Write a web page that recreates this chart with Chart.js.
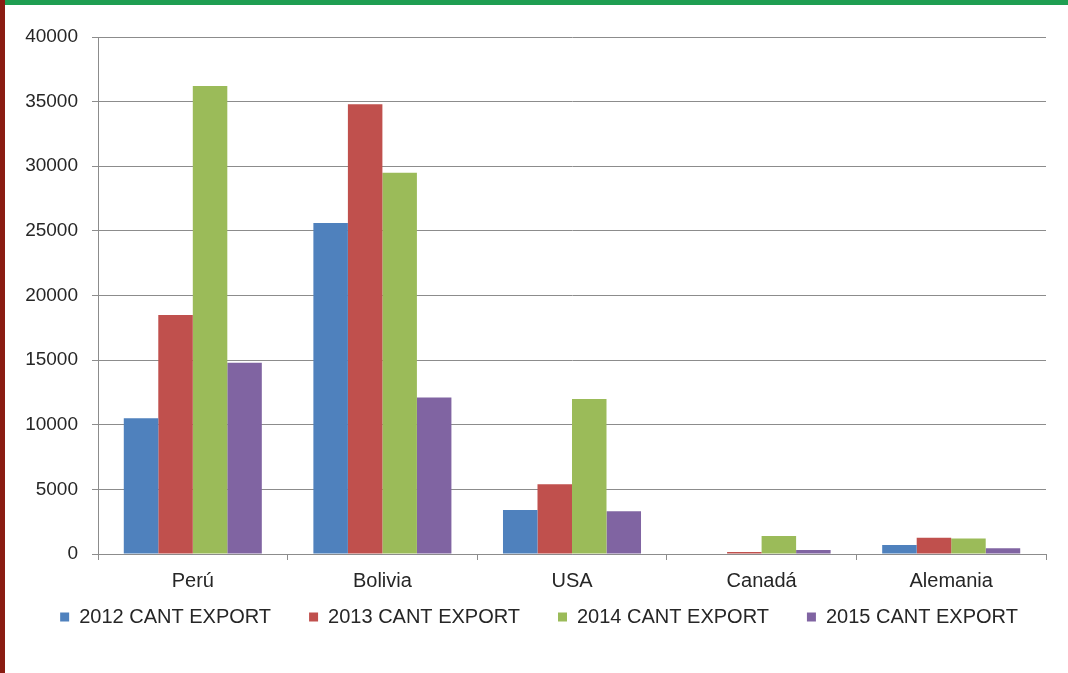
<!DOCTYPE html>
<html>
<head>
<meta charset="utf-8">
<script src="https://cdn.jsdelivr.net/npm/chart.js@4.4.1/dist/chart.umd.min.js"></script>
<style>
  html, body { margin: 0; padding: 0; background: #fff; }
  #wrap { position: relative; width: 1068px; height: 673px; overflow: hidden; background: #fff; }
  #topBorder { position: absolute; left: 0; top: 0; width: 1068px; height: 5px; background: #1f9e52; }
  #leftBorder { position: absolute; left: 0; top: 0; width: 5px; height: 673px; background: #8a1c12; }
  canvas { position: absolute; left: 0; top: 0; }
</style>
</head>
<body>
<div id="wrap">
  <canvas id="c" width="1068" height="673"></canvas>
  <div id="topBorder"></div>
  <div id="leftBorder"></div>
</div>
<script>
const categories = ['Perú', 'Bolivia', 'USA', 'Canadá', 'Alemania'];
const seriesNames = ['2012 CANT EXPORT', '2013 CANT EXPORT', '2014 CANT EXPORT', '2015 CANT EXPORT'];
const values2012 = [10500, 25600, 3400, 0, 700];
const values2013 = [18500, 34800, 5400, 150, 1250];
const values2014 = [36200, 29500, 12000, 1400, 1200];
const values2015 = [14800, 12100, 3300, 300, 450];
const seriesColors = ['#4f81bd', '#c0504d', '#9bbb59', '#8064a2'];
const yTicks = [0, 5000, 10000, 15000, 20000, 25000, 30000, 35000, 40000];

Chart.defaults.font.family = "'Liberation Sans', Arial, sans-serif";
Chart.defaults.color = '#262626';

const allValues = [values2012, values2013, values2014, values2015];

// Re-place the legend box after layout so that it sits like the reference
const legendPlacer = {
  id: 'legendPlacer',
  afterLayout(chart) {
    const lg = chart.legend;
    if (!lg) return;
    const h = lg.bottom - lg.top;
    lg.top = 569;
    lg.bottom = 569 + h;
    lg.left = 16;
    lg.right = 1062;
  }
};

new Chart(document.getElementById('c'), {
  type: 'bar',
  data: {
    labels: categories,
    datasets: allValues.map((v, i) => ({
      label: seriesNames[i],
      data: v,
      backgroundColor: seriesColors[i],
      borderWidth: 0,
      categoryPercentage: 0.728,
      barPercentage: 1.0
    }))
  },
  plugins: [legendPlacer],
  options: {
    responsive: false,
    animation: false,
    layout: { padding: { left: 0, right: 22, top: 37, bottom: 11 } },
    plugins: {
      tooltip: { enabled: false },
      legend: {
        position: 'bottom',
        labels: {
          boxWidth: 9,
          boxHeight: 9,
          padding: 38,
          color: '#262626',
          font: { size: 20 }
        }
      }
    },
    scales: {
      x: {
        afterFit: (s) => { s.height = 40; },
        grid: { drawOnChartArea: false, drawTicks: true, tickLength: 6, color: '#8c8c8c', offset: true },
        border: { color: '#8c8c8c' },
        ticks: { padding: 9, color: '#262626', font: { size: 20 } }
      },
      y: {
        min: 0,
        max: 40000,
        afterFit: (s) => { s.width = 98; },
        afterBuildTicks: (s) => { s.ticks = yTicks.map(v => ({ value: v })); },
        grid: { color: '#8c8c8c', tickLength: 6 },
        border: { color: '#8c8c8c' },
        ticks: { padding: 14, color: '#262626', font: { size: 19 }, callback: (v) => String(v) }
      }
    }
  }
});
</script>
</body>
</html>
